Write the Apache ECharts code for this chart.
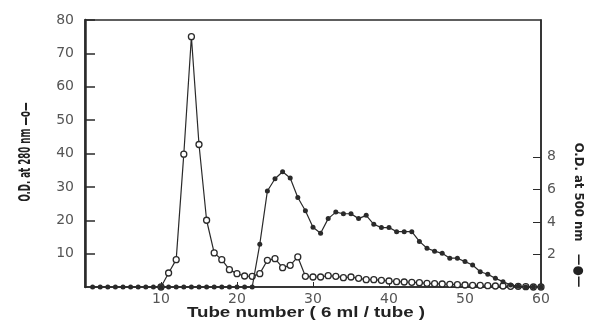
<!DOCTYPE html>
<html>
<head>
<meta charset="utf-8">
<script src="https://cdn.jsdelivr.net/npm/echarts@6/dist/echarts.min.js"></script>
<style>html,body{margin:0;padding:0;background:#fff;}#c{width:590px;height:321px;}</style>
</head>
<body>
<div id="c"></div>
<script>
var tubes = [];
for (var t = 1; t <= 60; t++) tubes.push(t);

var od280 = [null,null,null,null,null,null,null,null,null,0,
  4.2,8.2,39.8,75,42.7,20,10.2,8.2,5.2,4,
  3.3,3.2,4,8,8.5,5.8,6.5,9,3.2,3,
  3,3.4,3.2,2.8,3,2.6,2.2,2.2,2.0,1.8,
  1.6,1.5,1.4,1.3,1.1,1.0,0.9,0.8,0.7,0.6,
  0.5,0.5,0.4,0.3,0.3,0.2,0.2,0.1,0,0];

var od500 = [0,0,0,0,0,0,0,0,0,0,
  0,0,0,0,0,0,0,0,0,0,
  0,0,2.63,5.9,6.65,7.08,6.7,5.5,4.68,3.67,
  3.3,4.2,4.6,4.5,4.5,4.2,4.4,3.85,3.65,3.65,
  3.4,3.4,3.4,2.8,2.38,2.2,2.07,1.77,1.77,1.56,
  1.35,0.94,0.78,0.53,0.33,0.12,0.05,0,0,0];

var xTicks = [10,20,30,40,50,60];
var leftTicks = [10,20,30,40,50,60,70,80];
var rightTicks = [2,4,6,8];

var xTitle = 'Tube number ( 6 ml / tube )';
var leftTitle = 'O.D. at 280 nm —o—';
var rightTitle = 'O.D. at 500 nm   —●—';

function pairs(xs, ys) { return xs.map(function (x, i) { return [x, ys[i]]; }); }

var ink = '#2a2a2a';
var labelColor = '#555';
var numFont = '"DejaVu Sans", sans-serif';
var titleFont = '"DejaVu Sans Condensed", "Liberation Sans", sans-serif';

var chart = echarts.init(document.getElementById('c'), null, {renderer: 'canvas'});
chart.setOption({
  backgroundColor: '#fff',
  animation: false,
  grid: {left: 85, right: 49, top: 20, bottom: 34, show: true, borderColor: ink, borderWidth: 1.5, backgroundColor: 'transparent'},
  xAxis: {
    type: 'value', min: 0, max: 60, interval: 10,
    axisLine: {show: true, onZero: false, lineStyle: {color: ink, width: 1.5}},
    axisTick: {show: true, inside: true, length: 5, lineStyle: {color: ink}, customValues: xTicks},
    axisLabel: {color: labelColor, fontFamily: numFont, fontSize: 14, margin: 5, customValues: xTicks},
    splitLine: {show: false}
  },
  yAxis: [{
    type: 'value', min: 0, max: 80, interval: 10, position: 'left',
    axisLine: {show: true, onZero: false, lineStyle: {color: ink, width: 2.5}},
    axisTick: {show: true, inside: true, length: 10, lineStyle: {color: ink, width: 1.5}, customValues: leftTicks},
    axisLabel: {color: labelColor, fontFamily: numFont, fontSize: 14, margin: 11, customValues: leftTicks},
    splitLine: {show: false}
  }, {
    type: 'value', min: 0, max: 16.4, position: 'right',
    axisLine: {show: true, onZero: false, lineStyle: {color: ink, width: 1.5}},
    axisTick: {show: true, inside: true, length: 8, lineStyle: {color: ink}, customValues: rightTicks},
    axisLabel: {color: labelColor, fontFamily: numFont, fontSize: 14, margin: 6, customValues: rightTicks},
    splitLine: {show: false}
  }],
  graphic: [
    {type: 'text', x: 306, y: 313, scaleX: 1.25, style: {text: xTitle, fill: '#222', font: 'bold 15px "Liberation Sans", sans-serif', align: 'center', verticalAlign: 'middle'}},
    {type: 'text', x: 26, y: 152, rotation: Math.PI / 2, scaleX: 0.64, style: {text: leftTitle, fill: '#222', font: 'bold 15px ' + titleFont, align: 'center', verticalAlign: 'middle'}},
    {type: 'text', x: 578, y: 215, rotation: -Math.PI / 2, style: {text: rightTitle, fill: '#222', font: 'bold 13px ' + titleFont, align: 'center', verticalAlign: 'middle'}}
  ],
  series: [{
    type: 'line', yAxisIndex: 0, data: pairs(tubes, od280),
    symbol: 'circle', symbolSize: 6, showSymbol: true, connectNulls: false,
    lineStyle: {color: ink, width: 1.2},
    itemStyle: {color: '#fff', borderColor: ink, borderWidth: 1.3},
    z: 3
  }, {
    type: 'line', yAxisIndex: 1, data: pairs(tubes, od500),
    symbol: 'circle', symbolSize: 5, showSymbol: true,
    lineStyle: {color: ink, width: 1.2},
    itemStyle: {color: ink, borderColor: ink, borderWidth: 0},
    z: 4
  }]
});
</script>
</body>
</html>
